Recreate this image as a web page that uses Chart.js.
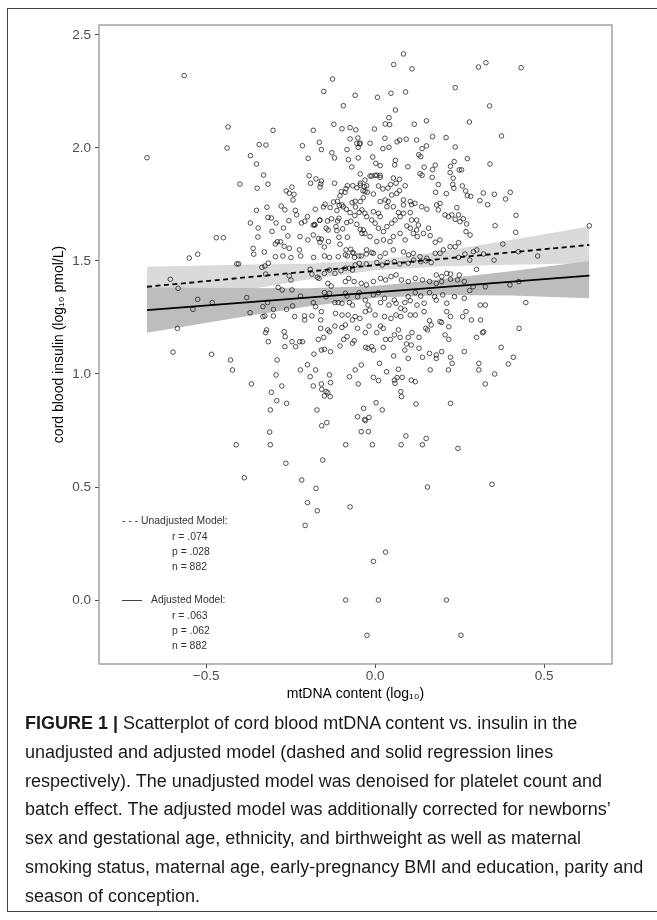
<!DOCTYPE html>
<html>
<head>
<meta charset="utf-8">
<script src="https://cdn.jsdelivr.net/npm/chart.js@4.4.0/dist/chart.umd.min.js"></script>
<style>
  html, body { margin: 0; padding: 0; background: #fff; }
  body { width: 657px; height: 920px; position: relative; overflow: hidden; font-family: "Liberation Sans", Arial, sans-serif; }
  #frame { position: absolute; left: 7px; top: 8px; width: 670px; height: 904px; border: 1.5px solid #444; box-sizing: border-box; }
  #chartBox { position: absolute; left: 0; top: 0; width: 657px; height: 720px; }
  .key { position: absolute; font-size: 10.4px; line-height: 12px; color: #333; white-space: nowrap; }
  .key .bar { display: inline-block; width: 20px; border-top: 1.2px solid #444; vertical-align: middle; margin-right: 9px; }
  #caption { position: absolute; left: 25px; top: 709px; font-size: 18px; line-height: 28.8px; color: #1a1a1a; white-space: nowrap; }
  #caption b { font-weight: bold; }
</style>
</head>
<body>
<div id="frame"></div>
<div id="chartBox"><canvas id="chart" width="657" height="720"></canvas></div>

<div class="key" style="left:122px; top:515px;">- - - Unadjusted Model:</div>
<div class="key" style="left:172px; top:531px;">r = .074</div>
<div class="key" style="left:172px; top:546px;">p = .028</div>
<div class="key" style="left:172px; top:561px;">n = 882</div>
<div class="key" style="left:122px; top:594px;"><span class="bar"></span>Adjusted Model:</div>
<div class="key" style="left:172px; top:610px;">r = .063</div>
<div class="key" style="left:172px; top:625px;">p = .062</div>
<div class="key" style="left:172px; top:640px;">n = 882</div>

<div id="caption"><b>FIGURE 1 |</b> Scatterplot of cord blood mtDNA content vs. insulin in the<br>unadjusted and adjusted model (dashed and solid regression lines<br>respectively). The unadjusted model was denoised for platelet count and<br>batch effect. The adjusted model was additionally corrected for newborns’<br>sex and gestational age, ethnicity, and birthweight as well as maternal<br>smoking status, maternal age, early-pregnancy BMI and education, parity and<br>season of conception.</div>

<script>
// axis ticks
const xTicks = [-0.5, 0, 0.5]
const xTickLabels = ['\u22120.5', '0.0', '0.5']
const yTicks = [0, 0.5, 1, 1.5, 2, 2.5]
const yTickLabels = ['0.0', '0.5', '1.0', '1.5', '2.0', '2.5']

// regression lines (ends of the fitted range)
const fitEnds = [-0.675, 0.634]
const unadjustedLine = [1.386, 1.571]
const adjustedLine = [1.283, 1.435]

// confidence bands, read at a few x positions
const bandX = [-0.675, -0.4, -0.2, 0, 0.2, 0.4, 0.634]
const unadjustedHigh = [1.475, 1.483, 1.488, 1.503, 1.543, 1.593, 1.652]
const unadjustedLow = [1.297, 1.367, 1.418, 1.459, 1.477, 1.483, 1.490]
const adjustedHigh = [1.383, 1.381, 1.379, 1.389, 1.420, 1.455, 1.500]
const adjustedLow = [1.183, 1.251, 1.299, 1.337, 1.350, 1.347, 1.335]

// mtDNA content (log10), cord blood insulin (log10 pmol/L)
const scatterPoints = [
  [-0.565,2.320],[-0.675,1.957],[-0.435,2.093],[-0.438,2.000],[-0.302,2.078],[-0.126,2.305],[-0.152,2.250],[-0.059,2.233],
  [-0.094,2.187],[-0.122,2.105],[-0.183,2.078],[-0.098,2.085],[-0.074,2.090],[-0.057,2.080],[-0.074,2.040],[-0.051,2.044],
  [-0.054,2.020],[-0.046,2.018],[-0.050,2.003],[-0.165,2.025],[-0.159,1.993],[-0.083,1.993],[-0.215,2.010],[-0.343,2.015],
  [-0.323,2.013],[-0.369,1.966],[-0.351,1.929],[-0.198,1.954],[-0.128,1.979],[-0.120,1.956],[-0.079,1.948],[-0.050,1.956],
  [-0.069,1.916],[-0.330,1.880],[-0.400,1.840],[-0.317,1.840],[-0.349,1.822],[-0.195,1.877],[-0.175,1.863],[-0.191,1.844],
  [-0.159,1.854],[-0.161,1.841],[-0.163,1.827],[-0.120,1.844],[-0.263,1.810],[-0.254,1.800],[-0.246,1.827],[-0.240,1.795],
  [-0.243,1.770],[-0.351,1.724],[-0.320,1.738],[-0.317,1.693],[-0.307,1.690],[-0.278,1.743],[-0.267,1.726],[-0.236,1.724],
  [-0.232,1.704],[-0.369,1.668],[-0.346,1.646],[-0.305,1.631],[-0.293,1.668],[-0.271,1.646],[-0.255,1.678],[-0.347,1.606],
  [-0.361,1.556],[-0.359,1.530],[-0.328,1.540],[-0.470,1.603],[-0.449,1.603],[-0.550,1.513],[-0.525,1.530],[-0.295,1.575],
  [-0.289,1.585],[-0.280,1.585],[-0.269,1.565],[-0.254,1.556],[-0.258,1.611],[-0.222,1.608],[-0.218,1.668],[-0.208,1.676],
  [-0.200,1.696],[-0.183,1.659],[-0.178,1.659],[-0.163,1.681],[-0.183,1.615],[-0.167,1.599],[-0.163,1.583],[-0.159,1.597],
  [-0.199,1.593],[-0.224,1.549],[-0.220,1.522],[-0.182,1.516],[-0.150,1.522],[-0.135,1.516],[-0.150,1.562],[-0.138,1.586],
  [-0.129,1.687],[-0.141,1.677],[-0.145,1.645],[-0.139,1.637],[-0.116,1.652],[-0.111,1.677],[-0.107,1.689],[-0.113,1.634],
  [-0.107,1.605],[-0.082,1.605],[-0.104,1.574],[-0.086,1.549],[-0.072,1.552],[-0.082,1.522],[-0.063,1.534],[-0.061,1.516],
  [-0.048,1.522],[-0.035,1.637],[-0.044,1.640],[-0.054,1.662],[-0.072,1.676],[-0.060,1.701],[-0.047,1.715],[-0.058,1.739],
  [-0.068,1.758],[-0.059,1.764],[-0.044,1.763],[-0.035,1.780],[-0.030,1.807],[-0.032,1.829],[-0.044,1.835],[-0.054,1.824],
  [-0.066,1.833],[-0.082,1.833],[-0.086,1.820],[-0.089,1.804],[-0.100,1.807],[-0.104,1.788],[-0.098,1.748],[-0.111,1.764],
  [-0.123,1.761],[-0.133,1.736],[-0.148,1.751],[-0.153,1.739],[-0.164,1.680],[-0.177,1.729],[-0.179,1.661],[-0.113,1.723],
  [-0.106,1.745],[-0.094,1.740],[-0.085,1.729],[-0.074,1.714],[-0.084,1.670],[-0.096,1.642],
  [0.084,2.416],[0.055,2.369],[0.109,2.350],[0.306,2.358],[0.328,2.377],[0.432,2.355],[0.237,2.267],[0.007,2.224],
  [0.047,2.242],[0.090,2.248],[0.060,2.168],[0.339,2.186],[0.041,2.134],[0.030,2.106],[0.043,2.103],[0.116,2.105],
  [0.152,2.120],[0.279,2.115],[-0.002,2.084],[0.374,2.053],[0.170,2.050],[0.210,2.046],[0.029,2.043],[0.065,2.027],
  [0.073,2.035],[0.092,2.039],[0.123,2.035],[-0.044,2.021],[-0.015,2.021],[0.023,1.997],[0.041,2.003],[0.139,1.997],
  [0.152,2.009],[0.237,2.004],[-0.007,1.960],[0.002,1.932],[0.015,1.922],[0.060,1.945],[0.058,1.925],[0.097,1.917],
  [0.129,1.970],[0.135,1.962],[0.145,1.915],[0.170,1.904],[0.178,1.924],[0.273,1.953],[0.223,1.919],[0.234,1.940],
  [0.249,1.903],[0.256,1.903],[0.222,1.891],[0.340,1.929],[-0.044,1.885],[-0.015,1.876],[0.000,1.879],[0.015,1.879],
  [0.054,1.867],[0.072,1.861],[0.062,1.844],[0.046,1.838],[0.038,1.823],[0.089,1.833],[0.133,1.886],[0.139,1.879],
  [0.169,1.870],[0.187,1.838],[0.179,1.804],[0.211,1.798],[0.230,1.839],[0.233,1.822],[0.231,1.866],[0.258,1.832],
  [0.268,1.810],[0.273,1.789],[0.283,1.786],[0.310,1.767],[0.320,1.801],[0.333,1.749],[0.353,1.795],[0.386,1.774],
  [0.400,1.804],[0.417,1.702],[0.355,1.656],[0.416,1.627],[0.634,1.656],
  [-0.044,1.844],[-0.030,1.858],[-0.025,1.833],[-0.036,1.811],[-0.023,1.804],[-0.010,1.876],[0.005,1.879],[0.015,1.870],
  [0.010,1.832],[0.023,1.819],[-0.005,1.796],[0.015,1.763],[0.030,1.770],[0.039,1.763],[0.049,1.792],[0.064,1.799],
  [0.072,1.811],[0.084,1.770],[0.104,1.763],[0.108,1.749],[0.118,1.755],[0.138,1.740],[0.153,1.729],[0.182,1.748],
  [0.192,1.755],[0.187,1.726],[0.207,1.704],[0.217,1.696],[0.227,1.704],[0.242,1.736],[0.247,1.704],[0.237,1.684],
  [0.251,1.674],[0.261,1.687],[0.269,1.630],[0.271,1.664],[0.281,1.615],[0.247,1.581],[0.237,1.563],[0.222,1.563],
  [0.202,1.549],[0.192,1.593],[0.178,1.583],[0.163,1.612],[0.158,1.645],[0.143,1.622],[0.125,1.608],[0.123,1.637],
  [0.123,1.681],[0.108,1.681],[0.104,1.714],[0.084,1.711],[0.074,1.696],[0.059,1.681],[0.049,1.667],[0.035,1.652],
  [0.025,1.630],[0.010,1.645],[0.000,1.667],[-0.010,1.681],[-0.025,1.696],[-0.030,1.711],[-0.039,1.726],[-0.005,1.718],
  [0.010,1.711],[0.015,1.696],[0.035,1.740],[0.054,1.740],[0.069,1.714],[0.084,1.748],[0.094,1.655],[0.104,1.645],
  [0.113,1.622],[0.128,1.659],[0.074,1.622],[0.089,1.593],[0.054,1.608],[0.044,1.586],[0.025,1.593],[0.005,1.586],
  [-0.015,1.608],[-0.030,1.622],[-0.039,1.622],[-0.025,1.549],[-0.005,1.534],[0.015,1.519],[0.030,1.534],[0.054,1.549],
  [0.084,1.540],[0.099,1.527],[0.113,1.534],[0.133,1.519],[0.153,1.512],[0.178,1.534],[0.192,1.534],[0.247,1.516],
  [0.266,1.531],[0.291,1.541],[0.301,1.549],[0.321,1.531],[0.378,1.575],[0.424,1.541],[0.481,1.522],
  [-0.295,1.519],[-0.273,1.522],[-0.249,1.515],[-0.109,1.519],[-0.088,1.527],[-0.067,1.537],[-0.041,1.522],[-0.026,1.531],
  [-0.010,1.537],
  [-0.409,1.487],[-0.404,1.487],[-0.326,1.478],[-0.316,1.490],[-0.335,1.472],[-0.324,1.442],[-0.254,1.434],[-0.249,1.416],
  [-0.192,1.463],[-0.187,1.442],[-0.171,1.428],[-0.166,1.423],[-0.150,1.445],[-0.135,1.460],[-0.119,1.445],[-0.101,1.457],
  [-0.088,1.468],[-0.076,1.468],[-0.067,1.460],[-0.059,1.482],[-0.047,1.490],[-0.026,1.487],[0.005,1.493],[0.021,1.482],
  [0.036,1.493],[0.057,1.497],[0.073,1.487],[0.098,1.490],[0.114,1.504],[0.135,1.497],[0.150,1.501],[0.166,1.493],
  [0.181,1.438],[0.197,1.431],[0.212,1.445],[0.223,1.442],[0.249,1.438],[0.280,1.504],[0.300,1.463],[0.352,1.504],
  [-0.606,1.419],[-0.583,1.379],[-0.140,1.401],[-0.130,1.389],[-0.088,1.409],[-0.078,1.423],[-0.062,1.409],[-0.041,1.401],
  [-0.026,1.394],[-0.005,1.409],[0.016,1.423],[0.031,1.416],[0.047,1.431],[0.062,1.438],[0.078,1.416],[0.098,1.409],
  [0.119,1.423],[0.140,1.416],[0.161,1.409],[0.181,1.401],[0.197,1.409],[0.223,1.419],[0.244,1.416],[0.264,1.409],
  [0.290,1.386],[0.326,1.386],[0.399,1.394],[0.425,1.409],[0.446,1.316],
  [-0.525,1.330],[-0.482,1.316],[-0.539,1.286],[-0.380,1.338],[-0.370,1.271],[-0.332,1.298],[-0.318,1.316],[-0.301,1.286],
  [-0.275,1.372],[-0.246,1.372],[-0.262,1.286],[-0.244,1.301],[-0.287,1.383],[-0.221,1.345],[-0.183,1.316],[-0.176,1.298],
  [-0.159,1.276],[-0.150,1.360],[-0.145,1.342],[-0.135,1.357],[-0.119,1.316],[-0.109,1.316],[-0.098,1.313],[-0.088,1.357],
  [-0.083,1.345],[-0.076,1.316],[-0.067,1.305],[-0.052,1.342],[-0.047,1.360],[-0.029,1.327],[-0.021,1.305],[-0.005,1.350],
  [0.010,1.360],[0.016,1.316],[0.028,1.335],[0.041,1.305],[0.057,1.327],[0.062,1.313],[0.076,1.291],[0.088,1.316],
  [0.098,1.342],[0.104,1.324],[0.119,1.360],[0.124,1.305],[0.135,1.345],[0.145,1.313],[0.161,1.360],[0.176,1.342],
  [0.181,1.327],[0.200,1.350],[0.212,1.313],[0.235,1.342],[0.264,1.335],[0.280,1.369],[0.311,1.305],[0.326,1.305],
  [0.269,1.276],[0.259,1.254],[0.285,1.239],[0.312,1.239],[0.318,1.183],
  [-0.161,1.239],[-0.117,1.268],[-0.098,1.261],[-0.080,1.261],[-0.067,1.239],[-0.059,1.254],[-0.045,1.246],[-0.029,1.276],
  [-0.016,1.283],[0.000,1.261],[0.028,1.254],[0.047,1.246],[0.062,1.261],[0.076,1.254],[0.088,1.283],[0.104,1.261],
  [0.119,1.261],[0.145,1.276],[0.161,1.236],[0.192,1.232],[0.212,1.276],[0.223,1.254],[-0.209,1.257],[-0.208,1.239],
  [-0.187,1.257],[-0.238,1.254],[-0.301,1.257],[-0.326,1.257],[-0.332,1.254],
  [-0.585,1.202],[-0.598,1.097],[-0.484,1.087],[-0.428,1.062],[-0.422,1.018],[-0.321,1.195],[-0.324,1.183],[-0.316,1.143],
  [-0.269,1.187],[-0.266,1.165],[-0.246,1.143],[-0.223,1.143],[-0.215,1.143],[-0.235,1.121],[-0.267,1.121],[-0.290,1.062],
  [-0.181,1.088],[-0.168,1.153],[-0.161,1.202],[-0.152,1.162],[-0.140,1.195],[-0.135,1.187],[-0.119,1.212],[-0.098,1.206],
  [-0.088,1.217],[-0.083,1.165],[-0.062,1.147],[-0.052,1.202],[-0.029,1.183],[-0.018,1.212],[-0.010,1.121],[0.005,1.183],
  [0.016,1.212],[0.024,1.202],[0.031,1.153],[0.045,1.153],[0.057,1.173],[0.069,1.195],[0.074,1.162],[0.093,1.133],
  [0.098,1.162],[0.109,1.183],[0.130,1.162],[0.150,1.202],[0.155,1.195],[0.166,1.217],[0.197,1.228],[0.207,1.173],
  [0.218,1.209],[0.218,1.153],[0.264,1.099],[0.300,1.162],[0.321,1.187],[0.373,1.118],[0.409,1.074],[0.426,1.202],
  [0.394,1.044],[-0.159,1.106],[-0.150,1.109],[-0.132,1.099],[-0.104,1.124],[-0.093,1.153],[-0.067,1.136],[-0.028,1.118],
  [-0.021,1.114],[-0.005,1.106],[0.024,1.118],[0.055,1.080],[0.088,1.106],[0.098,1.069],[0.107,1.128],[0.130,1.114],
  [0.140,1.074],[0.161,1.091],[0.181,1.069],[0.197,1.099],[0.223,1.074],[0.228,1.047],
  [-0.366,0.956],[-0.293,0.996],[-0.276,0.947],[-0.221,1.018],[-0.200,1.041],[-0.192,0.988],[-0.183,0.947],[-0.176,1.018],
  [-0.159,0.956],[-0.132,0.962],[-0.135,0.996],[-0.076,0.988],[-0.059,1.018],[-0.050,0.956],[-0.041,1.040],[-0.005,0.985],
  [0.010,0.971],[0.013,1.047],[0.034,1.010],[0.059,0.959],[0.057,0.973],[0.065,0.984],[0.069,1.021],[0.080,0.985],
  [0.107,0.973],[0.119,0.966],[0.163,1.018],[0.181,1.084],[0.217,1.018],[0.307,1.047],[0.307,1.018],[0.326,0.956],
  [0.354,1.000],[-0.158,0.932],[-0.150,0.903],[-0.145,0.922],[-0.140,0.917],[-0.133,0.900],[-0.034,0.848],[0.003,0.873],
  [0.021,0.841],[0.076,0.922],[0.078,0.900],[0.121,0.867],[0.223,0.870],[-0.052,0.811],[-0.018,0.808],[-0.031,0.799],
  [-0.307,0.919],[-0.291,0.882],[-0.262,0.870],[-0.310,0.841],[-0.172,0.841],
  [-0.158,0.771],[-0.143,0.785],[-0.029,0.794],[-0.312,0.743],[-0.041,0.745],[-0.020,0.745],[-0.411,0.687],[-0.310,0.687],
  [-0.087,0.687],[-0.008,0.687],[0.077,0.687],[0.091,0.726],[0.140,0.687],[0.151,0.715],[0.245,0.671],[-0.264,0.605],
  [-0.155,0.619],[-0.387,0.541],[-0.217,0.531],[-0.175,0.494],[0.155,0.500],[0.346,0.512],[-0.200,0.431],[-0.171,0.395],
  [-0.074,0.412],[-0.207,0.330],[0.031,0.212],[-0.005,0.171],[-0.087,0.000],[0.010,0.000],[0.211,0.000],[-0.024,-0.156],
  [0.254,-0.156]
]

const panelBorder = {
  id: 'panelBorder',
  afterDraw(chart) {
    const { ctx, chartArea } = chart
    ctx.save()
    ctx.strokeStyle = '#8a8a8a'
    ctx.lineWidth = 1.2
    ctx.strokeRect(chartArea.left, chartArea.top, chartArea.right - chartArea.left, chartArea.bottom - chartArea.top)
    ctx.restore()
  }
}

function xy(xs, ys) {
  return xs.map((x, i) => ({ x: x, y: ys[i] }))
}

const tickFont = { family: '"Liberation Sans", Arial, sans-serif', size: 13.5 }
const titleFont = { family: '"Liberation Sans", Arial, sans-serif', size: 14 }

new Chart(document.getElementById('chart'), {
  type: 'scatter',
  data: {
    datasets: [
      {
        type: 'line', label: 'unadjusted high', data: xy(bandX, unadjustedHigh),
        borderWidth: 0, pointRadius: 0, fill: '+1', backgroundColor: '#dadada', order: 5
      },
      {
        type: 'line', label: 'unadjusted low', data: xy(bandX, unadjustedLow),
        borderWidth: 0, pointRadius: 0, fill: false, order: 5
      },
      {
        type: 'line', label: 'adjusted high', data: xy(bandX, adjustedHigh),
        borderWidth: 0, pointRadius: 0, fill: '+1', backgroundColor: '#bdbdbd', order: 4
      },
      {
        type: 'line', label: 'adjusted low', data: xy(bandX, adjustedLow),
        borderWidth: 0, pointRadius: 0, fill: false, order: 4
      },
      {
        label: 'samples',
        data: scatterPoints.map(p => ({ x: p[0], y: p[1] })),
        pointRadius: 2.3,
        pointBorderWidth: 0.75,
        pointBorderColor: '#1a1a1a',
        pointBackgroundColor: 'rgba(0,0,0,0)',
        order: 2
      },
      {
        type: 'line', label: 'Unadjusted Model', data: xy(fitEnds, unadjustedLine),
        borderColor: '#000', borderWidth: 1.8, borderDash: [5, 3.5], pointRadius: 0, fill: false, order: 1
      },
      {
        type: 'line', label: 'Adjusted Model', data: xy(fitEnds, adjustedLine),
        borderColor: '#000', borderWidth: 1.8, pointRadius: 0, fill: false, order: 1
      }
    ]
  },
  options: {
    responsive: false,
    animation: false,
    events: [],
    layout: { padding: { left: 0, top: 25, right: 45, bottom: 0 } },
    plugins: { legend: { display: false }, tooltip: { enabled: false } },
    scales: {
      x: {
        type: 'linear', min: -0.817, max: 0.701,
        afterBuildTicks: (scale) => { scale.ticks = xTicks.map(v => ({ value: v })) },
        afterFit: (scale) => { scale.height = 56 },
        ticks: { callback: (v) => xTickLabels[xTicks.indexOf(v)], font: tickFont, color: '#4d4d4d', padding: 0, maxRotation: 0 },
        grid: { drawOnChartArea: false, drawTicks: true, tickLength: 4, tickColor: '#4d4d4d' },
        border: { display: false },
        title: { display: true, text: 'mtDNA content (log\u2081\u2080)', font: titleFont, color: '#000', padding: { top: 0, bottom: 17 } }
      },
      y: {
        type: 'linear', min: -0.283, max: 2.544,
        afterBuildTicks: (scale) => { scale.ticks = yTicks.map(v => ({ value: v })) },
        afterFit: (scale) => { scale.width = 99 },
        ticks: { callback: (v) => yTickLabels[yTicks.indexOf(v)], font: tickFont, color: '#4d4d4d', padding: 4 },
        grid: { drawOnChartArea: false, drawTicks: true, tickLength: 4, tickColor: '#4d4d4d' },
        border: { display: false },
        title: { display: true, text: 'cord blood insulin (log\u2081\u2080 pmol/L)', font: titleFont, color: '#000', padding: { top: 51, bottom: 0 } }
      }
    }
  },
  plugins: [panelBorder]
})
</script>
</body>
</html>
